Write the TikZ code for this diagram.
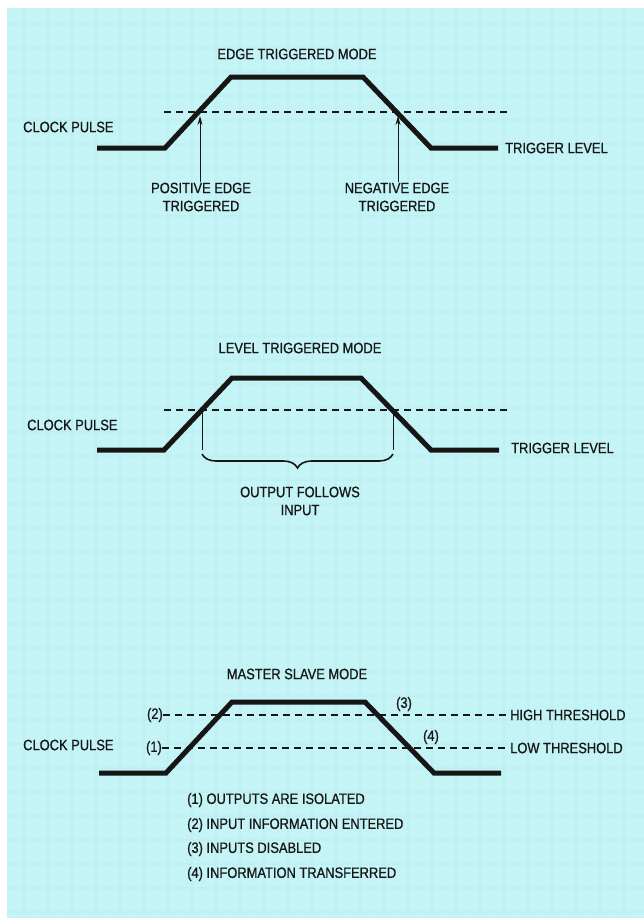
\documentclass[tikz,border=0pt]{standalone}
\usepackage{fontspec}
\setmainfont{Liberation Sans}[FakeStretch=0.86,FakeBold=0.8]
\usepackage{xcolor}
\usepackage{tikz}
\usetikzlibrary{arrows.meta,decorations.pathreplacing}
\definecolor{paper}{HTML}{C4F4F6}
\definecolor{paperline}{HTML}{B3E6EA}
\definecolor{ink}{HTML}{161616}

\begin{document}
\begin{tikzpicture}[
    x=1pt, y=-1pt,
    font=\fontsize{15}{18}\selectfont,
    lbl/.style={text=ink,inner sep=0pt,align=center},
    side/.style={lbl,anchor=west},
    pulse/.style={draw=ink,line width=5pt,line join=miter},
    level/.style={draw=ink,line width=1.2pt,dash pattern=on 7pt off 5pt},
    marker/.style={draw=ink,line width=1pt},
    arr/.style={-{Stealth[length=9pt,width=5pt]},line width=1pt,draw=ink},
  ]
  \useasboundingbox (0,0) rectangle (644,918);
  \fill[paper] (7,8) rectangle (644,918);
  \draw[paperline,line width=1.5pt,opacity=0.3,step=24pt] (7,8) grid (644,918);

  % edge triggered
  \node[lbl] (t1) at (297,54) {EDGE TRIGGERED MODE};
  \node[side] (cp1) at (23,127) {CLOCK PULSE};
  \node[side] (tl1) at (505,148) {TRIGGER LEVEL};
  \coordinate (a0) at (97,148);
  \coordinate (a1) at (165,148);
  \coordinate (a2) at (231,77);
  \coordinate (a3) at (363,77);
  \coordinate (a4) at (431,148);
  \coordinate (a5) at (498,148);
  \draw[pulse] (a0) -- (a1) -- (a2) -- (a3) -- (a4) -- (a5);
  \coordinate (d1s) at (164,112);
  \coordinate (d1e) at (507,112);
  \draw[level] (d1s) -- (d1e);
  \node[lbl] (pos) at (201,197) {POSITIVE EDGE\\TRIGGERED};
  \node[lbl] (neg) at (397,197) {NEGATIVE EDGE\\TRIGGERED};
  \coordinate (pt) at (200,116);
  \coordinate (nt) at (398,116);
  \draw[arr] (pos.north -| pt) -- (pt);
  \draw[arr] (neg.north -| nt) -- (nt);

  % level triggered
  \node[lbl] (t2) at (300,348) {LEVEL TRIGGERED MODE};
  \node[side] (cp2) at (27,425) {CLOCK PULSE};
  \node[side] (tl2) at (511,448) {TRIGGER LEVEL};
  \coordinate (b0) at (97,450);
  \coordinate (b1) at (164,450);
  \coordinate (b2) at (232,378);
  \coordinate (b3) at (361,378);
  \coordinate (b4) at (431,450);
  \coordinate (b5) at (499,450);
  \draw[pulse] (b0) -- (b1) -- (b2) -- (b3) -- (b4) -- (b5);
  \coordinate (d2s) at (164,410);
  \coordinate (d2e) at (511,410);
  \draw[level] (d2s) -- (d2e);
  \coordinate (v1t) at (202,412);
  \coordinate (v1b) at (202,450);
  \coordinate (v2t) at (393,412);
  \coordinate (v2b) at (393,450);
  \draw[marker] (v1t) -- (v1b);
  \draw[marker] (v2t) -- (v2b);
  \draw[line width=1.6pt,draw=ink,decorate,decoration={brace,mirror,amplitude=14pt}]
    (202,454) -- (393,454);
  \node[lbl] (ofi) at (300,501) {OUTPUT FOLLOWS\\INPUT};

  % master slave
  \node[lbl] (t3) at (297,674) {MASTER SLAVE MODE};
  \node[side] (cp3) at (23,745) {CLOCK PULSE};
  \coordinate (c0) at (99,773);
  \coordinate (c1) at (166,773);
  \coordinate (c2) at (232,702);
  \coordinate (c3) at (365,702);
  \coordinate (c4) at (434,773);
  \coordinate (c5) at (501,773);
  \draw[pulse] (c0) -- (c1) -- (c2) -- (c3) -- (c4) -- (c5);
  \node[lbl,anchor=east] (n2) at (163,715) {(2)};
  \node[lbl,anchor=east] (n1) at (162,748) {(1)};
  \node[side] (hi) at (510,715) {HIGH THRESHOLD};
  \node[side] (lo) at (510,748) {LOW THRESHOLD};
  \draw[level] (n2.east) -- (hi.west);
  \draw[level] (n1.east) -- (lo.west);
  \node[lbl] (n3) at (404,704) {(3)};
  \node[lbl] (n4) at (431,737) {(4)};
  \node[side] (k1) at (187,800) {(1) OUTPUTS ARE ISOLATED};
  \node[side] (k2) at (187,825) {(2) INPUT INFORMATION ENTERED};
  \node[side] (k3) at (187,849) {(3) INPUTS DISABLED};
  \node[side] (k4) at (187,874) {(4) INFORMATION TRANSFERRED};
\end{tikzpicture}
\end{document}
